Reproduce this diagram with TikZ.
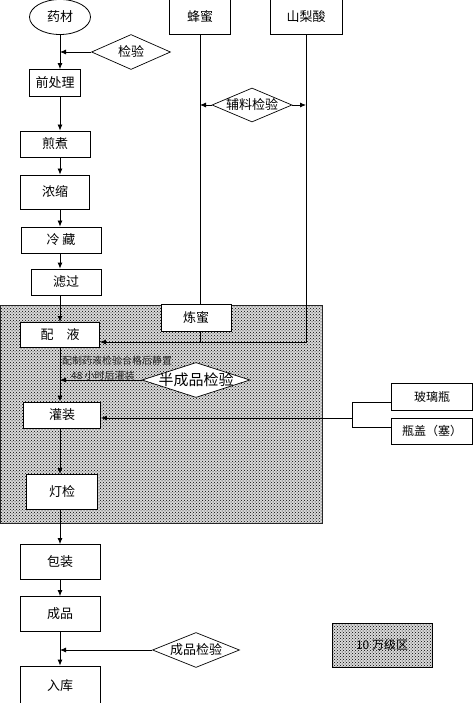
\documentclass[tikz,border=0pt]{standalone}
\usepackage{fontspec}
\setmainfont{Noto Sans CJK SC}
\usetikzlibrary{positioning,arrows.meta,shapes.geometric,patterns}

\newcommand{\tight}[1]{\makebox[0pt]{#1}}

\tikzset{
  stepbox/.style={draw, line width=0.8pt, fill=white, inner sep=0pt,
    font=\fontsize{13}{15}\selectfont},
  check/.style={draw, diamond, line width=0.7pt, fill=white, inner sep=0pt,
    font=\fontsize{13}{15}\selectfont},
  note/.style={inner sep=0pt, text=black!85, font=\fontsize{10}{12}\selectfont},
  zone/.style={preaction={fill=black!15}, pattern=crosshatch dots,
    pattern color=black},
  flow/.style={line width=0.8pt, -{Latex[length=6pt,width=5pt]}},
  feed/.style={line width=0.7pt},
}

\begin{document}
\begin{tikzpicture}[x=1pt,y=-1pt]
    \useasboundingbox (0,0) rectangle (474,703);

    %% clean zone
    \path[zone, draw=black!85, line width=0.8pt] (0,305) rectangle (322,523);

    %% raw herbs line
    \node[draw, ellipse, line width=0.8pt, minimum width=61pt, minimum height=35pt,
      inner sep=0pt, font=\fontsize{13}{15}\selectfont] (yaocai) at (60,17) {药材};
    \node[check, minimum width=79pt, minimum height=35pt] (jianyan) at (131,52) {\tight{检验}};
    \node[stepbox, minimum width=51pt, minimum height=27pt] (qian) at (55,83) {前处理};
    \node[stepbox, minimum width=70pt, minimum height=26pt] (jianzhu) at (55,144) {煎煮};
    \node[stepbox, minimum width=69pt, minimum height=34pt] (nongsuo) at (55,192) {浓缩};
    \node[stepbox, minimum width=80pt, minimum height=26pt] (lengcang) at (61,240) {冷\ 藏};
    \node[stepbox, minimum width=70pt, minimum height=26pt] (lvguo) at (66,282) {滤过};
    \node[stepbox, minimum width=79pt, minimum height=25pt] (peiye) at (60,335) {配\quad 液};
    \node[stepbox, minimum width=77pt, minimum height=26pt] (guanzhuang) at (62,415) {灌装};
    \node[stepbox, minimum width=71pt, minimum height=35pt] (dengjian) at (62,492) {灯检};
    \node[stepbox, minimum width=80pt, minimum height=35pt] (baozhuang) at (60,562) {包装};
    \node[stepbox, minimum width=80pt, minimum height=35pt] (chengpin) at (60,614) {成品};
    \node[stepbox, minimum width=80pt, minimum height=40pt] (ruku) at (60,686) {入库};

    %% auxiliary materials
    \node[stepbox, minimum width=61pt, minimum height=35pt] (fengmi) at (200,17) {蜂蜜};
    \node[stepbox, minimum width=72pt, minimum height=35pt] (shanlisuan) at (306,17) {山梨酸};
    \node[check, minimum width=80pt, minimum height=34pt] (fuliao) at (252,105) {\tight{辅料检验}};
    \node[stepbox, minimum width=70pt, minimum height=27pt] (lianmi) at (196,318) {炼蜜};

    %% checks in the zone and after it
    \node[check, minimum width=108pt, minimum height=35pt,
      font=\fontsize{15}{17}\selectfont] (banchengpin) at (196,380) {\tight{半成品检验}};
    \node[check, minimum width=87pt, minimum height=35pt] (chengpinjy) at (196,650) {\tight{成品检验}};
    \node[note, anchor=west] (cap1) at (62,361) {配制药液检验合格后静置};
    \node[note, anchor=south west] (cap2) at (71,381) {48 小时后灌装};

    %% bottles and caps
    \node[stepbox, minimum width=81pt, minimum height=27pt,
      font=\fontsize{12}{14}\selectfont] (boli) at (432,397) {玻璃瓶};
    \node[stepbox, minimum width=81pt, minimum height=26pt,
      font=\fontsize{12}{14}\selectfont] (pinggai) at (432,431) {瓶盖（塞）};

    %% legend
    \node[zone, draw, line width=0.8pt, minimum width=100pt, minimum height=44pt,
      inner sep=0pt, font=\fontsize{12}{14}\selectfont] (legend) at (382,645) {10 万级区};

    %% main flow
    \coordinate (spine) at (60,0);
    \draw[flow] (yaocai.south) -- (spine |- qian.north);
    \draw[flow] (spine |- qian.south) -- (spine |- jianzhu.north);
    \draw[flow] (spine |- jianzhu.south) -- (spine |- nongsuo.north);
    \draw[flow] (spine |- nongsuo.south) -- (spine |- lengcang.north);
    \draw[flow] (spine |- lengcang.south) -- (spine |- lvguo.north);
    \draw[flow] (spine |- lvguo.south) -- (spine |- peiye.north);
    \draw[flow] (spine |- peiye.south) -- (spine |- guanzhuang.north);
    \draw[flow] (spine |- guanzhuang.south) -- (spine |- dengjian.north);
    \draw[flow] (spine |- dengjian.south) -- (spine |- baozhuang.north);
    \draw[flow] (spine |- baozhuang.south) -- (spine |- chengpin.north);
    \draw[flow] (spine |- chengpin.south) -- (spine |- ruku.north);

    %% checks
    \draw[flow] (jianyan.west) -- (spine |- jianyan.west);
    \draw[flow] (banchengpin.west) -- (spine |- banchengpin.west);
    \draw[flow] (chengpinjy.west) -- (spine |- chengpinjy.west);

    %% honey and sorbic acid into the mixing
    \coordinate (join) at (306,342);
    \draw[feed] (fengmi.south) -- (fengmi |- lianmi.north);
    \draw[feed] (fengmi |- lianmi.south) -- (fengmi |- join);
    \draw[flow] (shanlisuan.south) -- (join) -- (join -| peiye.east);
    \draw[flow] (fuliao.west) -- (fuliao.west -| fengmi);
    \draw[flow] (fuliao.east) -- (fuliao.east -| join);

    %% bottles and caps into the filling
    \coordinate (fork) at (352,418);
    \draw[feed] ([yshift=-5pt]boli.west) -| (fork);
    \draw[feed] ([yshift=4pt]pinggai.west) -| (fork);
    \draw[flow] (fork) -- (fork -| guanzhuang.east);
\end{tikzpicture}
\end{document}
